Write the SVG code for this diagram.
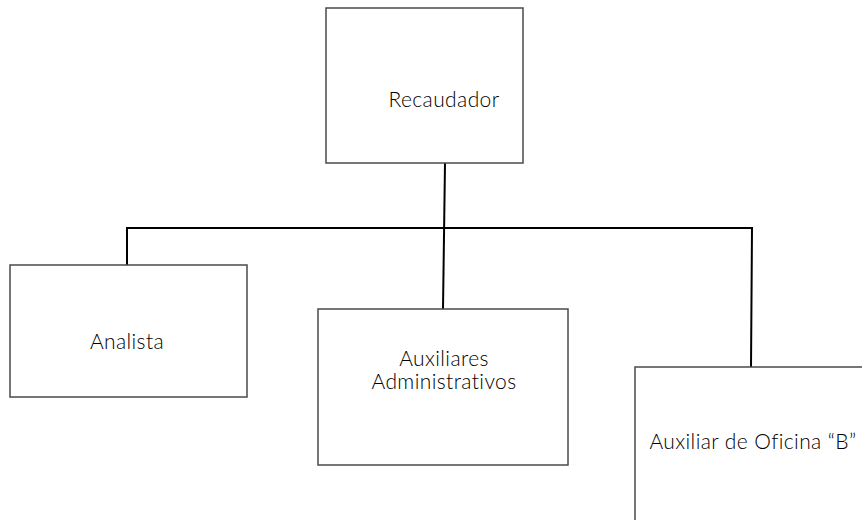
<svg xmlns="http://www.w3.org/2000/svg" width="862" height="520" viewBox="0 0 862 520">
<style>
.box{fill:#fff;stroke:#4a4a4a;stroke-width:1.5}
.lbl{font-family:Lato,"Open Sans","Liberation Sans",sans-serif;font-size:21px;font-weight:300;letter-spacing:0.4px;fill:#000;text-anchor:middle}
.con{stroke:#000;stroke-width:2;fill:none}
</style>
<rect width="862" height="520" fill="#fff"/>
<g id="connectors">
<line class="con" x1="445" y1="163" x2="443" y2="309"/>
<polyline class="con" points="127,265 127,228 752,228 751,367"/>
</g>
<g id="recaudador">
<rect class="box" x="326" y="8" width="197" height="155"/>
<text class="lbl" x="444" y="107">Recaudador</text>
</g>
<g id="analista">
<rect class="box" x="10" y="265" width="237" height="132"/>
<text class="lbl" x="127" y="349">Analista</text>
</g>
<g id="auxiliares">
<rect class="box" x="318" y="309" width="250" height="156"/>
<text class="lbl" x="444" y="366">Auxiliares</text>
<text class="lbl" x="444" y="389">Administrativos</text>
</g>
<g id="auxiliar-oficina">
<rect class="box" x="635" y="367" width="240" height="170"/>
<text class="lbl" x="753" y="449">Auxiliar de Oficina “B”</text>
</g>
</svg>
